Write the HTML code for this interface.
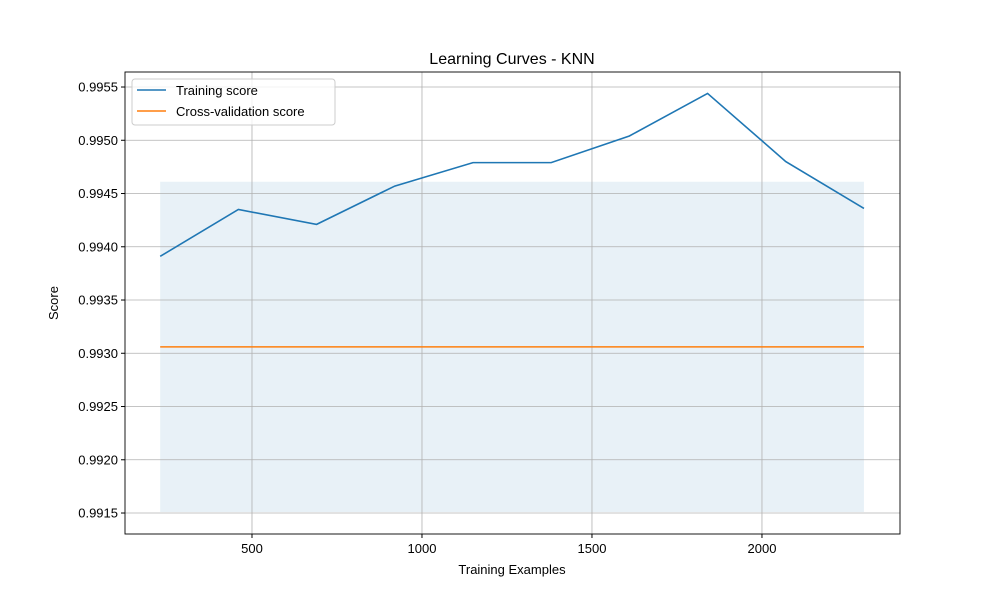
<!DOCTYPE html>
<html><head><meta charset="utf-8"><style>body{margin:0;background:#fff}svg{font-family:"Liberation Sans","DejaVu Sans",sans-serif}</style></head>
<body>
<svg id="c" width="1000" height="600" xmlns="http://www.w3.org/2000/svg"></svg>
<script>
const sizes=[230,460,690,920,1150,1380,1610,1840,2070,2300];
const trainScores=[0.99391,0.99435,0.99421,0.99457,0.99479,0.99479,0.99504,0.99544,0.99480,0.99436];
const cvScores=[0.99306,0.99306,0.99306,0.99306,0.99306,0.99306,0.99306,0.99306,0.99306,0.99306];
const cvStd=[0.00155,0.00155,0.00155,0.00155,0.00155,0.00155,0.00155,0.00155,0.00155,0.00155];
const xTicks=[500,1000,1500,2000];
const yTicks=[0.9915,0.992,0.9925,0.993,0.9935,0.994,0.9945,0.995,0.9955];
const L=125,R=900,T=72,B=534;
const x0=126.5,x1=2406,y0=0.991303,y1=0.995641;
const X=v=>L+(v-x0)/(x1-x0)*(R-L);
const Y=v=>B-(v-y0)/(y1-y0)*(B-T);
const svg=document.getElementById('c');const NS='http://www.w3.org/2000/svg';
function mk(t,a,txt){const e=document.createElementNS(NS,t);for(const k in a)e.setAttribute(k,a[k]);if(txt!=null)e.textContent=txt;svg.appendChild(e);return e;}
let e;
e=mk('text',{x:512,y:64,'text-anchor':'middle','font-size':16},'Learning Curves - KNN');


// band
let pts=sizes.map((s,i)=>X(s)+','+Y(cvScores[i]+cvStd[i])).concat(sizes.map((s,i)=>X(s)+','+Y(cvScores[i]-cvStd[i])).reverse());
e=mk('polygon',{points:pts.join(' '),fill:'#1f77b4','fill-opacity':0.1});


xTicks.forEach(v=>{const x=X(v);
e=mk('line',{x1:x,x2:x,y1:T,y2:B,stroke:'#b0b0b0','stroke-width':0.8});


mk('line',{x1:x,x2:x,y1:B,y2:B+4,stroke:'#000'});
e=mk('text',{x:x,y:B+19,'text-anchor':'middle','font-size':13},v);

});
yTicks.forEach(v=>{const y=Y(v);
e=mk('line',{x1:L,x2:R,y1:y,y2:y,stroke:'#b0b0b0','stroke-width':0.8});


mk('line',{x1:L-4,x2:L,y1:y,y2:y,stroke:'#000'});
e=mk('text',{x:L-7,y:y+4.5,'text-anchor':'end','font-size':13},v.toFixed(4));

});
e=mk('polyline',{points:sizes.map((s,i)=>X(s)+','+Y(trainScores[i])).join(' '),fill:'none',stroke:'#1f77b4','stroke-width':1.6});


e=mk('polyline',{points:sizes.map((s,i)=>X(s)+','+Y(cvScores[i])).join(' '),fill:'none',stroke:'#ff7f0e','stroke-width':1.6});


e=mk('rect',{x:L,y:T,width:R-L,height:B-T,fill:'none',stroke:'#000','stroke-width':0.9});


e=mk('text',{x:512,y:574,'text-anchor':'middle','font-size':13},'Training Examples');


e=mk('text',{x:58,y:303,'text-anchor':'middle','font-size':13,transform:'rotate(-90 58 303)'},'Score');


e=mk('rect',{x:132,y:79,width:203,height:46,rx:3,fill:'#fff','fill-opacity':0.8,stroke:'#ccc'});


mk('line',{x1:137,x2:166,y1:90,y2:90,stroke:'#1f77b4','stroke-width':1.6});
e=mk('text',{x:176,y:95,'font-size':13},'Training score');


mk('line',{x1:137,x2:166,y1:111,y2:111,stroke:'#ff7f0e','stroke-width':1.6});
e=mk('text',{x:176,y:116,'font-size':13},'Cross-validation score');


</script>
</body></html>
